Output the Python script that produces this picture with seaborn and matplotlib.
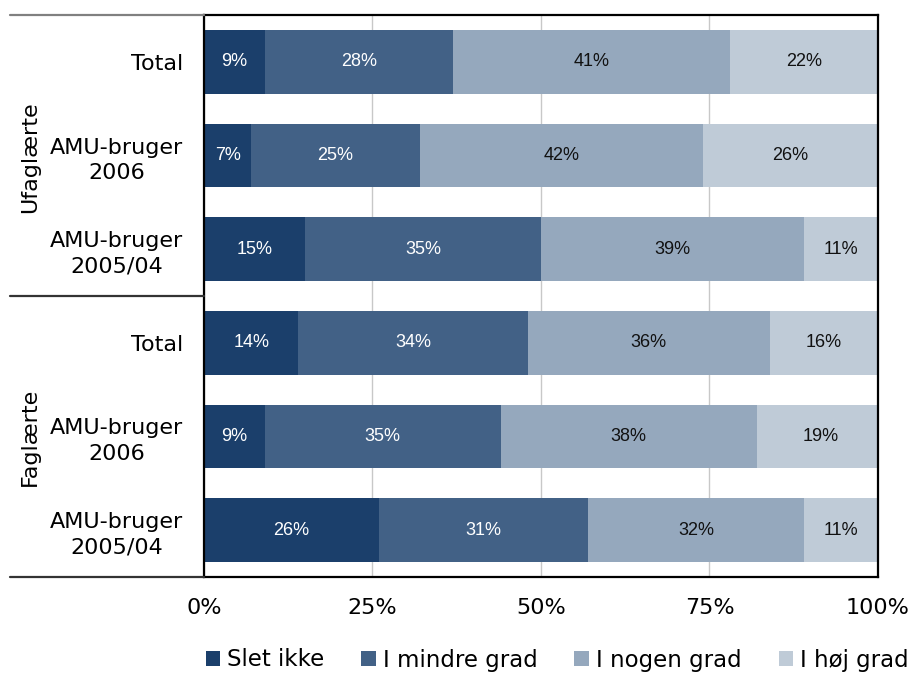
import numpy as np
import pandas as pd
import matplotlib
matplotlib.use("Agg")
import matplotlib.pyplot as plt
from matplotlib.lines import Line2D
from matplotlib.patches import Patch
import seaborn as sns

# Row labels (top to bottom) and their groups
row_labels = ["Total", "AMU-bruger\n2006", "AMU-bruger\n2005/04",
              "Total", "AMU-bruger\n2006", "AMU-bruger\n2005/04"]
row_groups = ["Ufaglærte"] * 3 + ["Faglærte"] * 3
groups = ["Ufaglærte", "Faglærte"]

# Answer categories
answers = ["Slet ikke", "I mindre grad", "I nogen grad", "I høj grad"]

# Shares in percent per row
slet_ikke = [9, 7, 15, 14, 9, 26]
mindre_grad = [28, 25, 35, 34, 35, 31]
nogen_grad = [41, 42, 39, 36, 38, 32]
hoej_grad = [22, 26, 11, 16, 19, 11]

x_ticks = [0, 25, 50, 75, 100]
x_ticklabels = ["0%", "25%", "50%", "75%", "100%"]

colors = ["#1b3f6b", "#426186", "#95a8bd", "#bfcbd7"]
text_colors = ["white", "white", "#111111", "#111111"]

sns.set_style("white")
plt.rcParams["font.family"] = ["DejaVu Sans"]
plt.rcParams["text.color"] = "black"
plt.rcParams["xtick.color"] = "black"
plt.rcParams["ytick.color"] = "black"

series = [slet_ikke, mindre_grad, nogen_grad, hoej_grad]
keys = [f"{g}: {r}" for g, r in zip(row_groups, row_labels)]
df = pd.DataFrame({"row": keys})
for name, vals in zip(answers, series):
    df[name] = vals
cum = df[answers].cumsum(axis=1)
cum["row"] = keys

fig = plt.figure(figsize=(9.12, 6.73), dpi=100)
ax = fig.add_axes([204 / 912, 1 - 577 / 673, (878 - 204) / 912, (577 - 15) / 673])

# Stacked bars: draw cumulative totals from the outermost segment inwards
for i in reversed(range(len(answers))):
    sns.barplot(data=cum, x=answers[i], y="row", orient="h",
                color=colors[i], width=0.68, saturation=1, ax=ax, zorder=2,
                linewidth=0)

# Value labels in the middle of each segment
for i, name in enumerate(answers):
    for j in range(len(keys)):
        v = df[name].iloc[j]
        xc = cum[name].iloc[j] - v / 2
        ax.text(xc, j, f"{v}%", ha="center", va="center", fontsize=13,
                color=text_colors[i], family="Liberation Sans", zorder=3)

ax.set_xlim(0, 100)
ax.set_ylim(len(keys) - 0.5, -0.5)
ax.set_xticks(x_ticks)
ax.set_xticklabels(x_ticklabels, fontsize=16)
ax.set_yticks(range(len(keys)))
ax.set_yticklabels(row_labels, fontsize=16, multialignment="center",
                   linespacing=1.35)
ax.tick_params(axis="y", length=0, pad=15)
ax.tick_params(axis="x", length=0, pad=15)
ax.set_xlabel("")
ax.set_ylabel("")
ax.xaxis.grid(True, color="#c8c8c8", linewidth=1, zorder=0)
ax.set_axisbelow(True)
for s in ax.spines.values():
    s.set_visible(True)
    s.set_color("black")
    s.set_linewidth(1.6)

# Group separators and group names to the left of the axis
x0 = 10 / 912
xa = 204 / 912
for y_px, col in [(15, "#808080"), (296, "#333333"), (577, "#333333")]:
    yf = 1 - y_px / 673
    fig.add_artist(Line2D([x0, xa], [yf, yf], color=col, linewidth=1.6,
                          transform=fig.transFigure))
for g, y_px in zip(groups, [157, 437]):
    fig.text(30 / 912, 1 - y_px / 673, g, rotation=90, ha="center",
             va="center", fontsize=16)

handles = [Patch(facecolor=c, edgecolor="none") for c in colors]
fig.legend(handles, answers, loc="center", bbox_to_anchor=(0.611, 1 - 660 / 673),
           ncol=4, frameon=False, fontsize=16.5, handlelength=0.65,
           handleheight=0.65, handletextpad=0.3, columnspacing=1.6,
           borderpad=0)

fig.savefig("out.png", dpi=100)
